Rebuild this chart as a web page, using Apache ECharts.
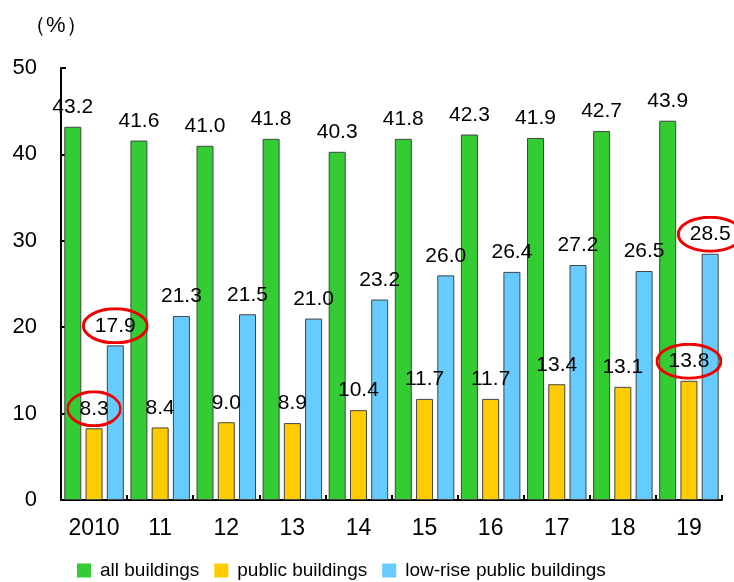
<!DOCTYPE html>
<html><head><meta charset="utf-8">
<script src="https://cdn.jsdelivr.net/npm/echarts@6/dist/echarts.min.js"></script>
<style>html,body{margin:0;padding:0;background:#fff}#c{width:734px;height:582px}</style>
</head><body><div id="c"></div>
<script>
var categories = ['2010','11','12','13','14','15','16','17','18','19'];
var allBuildings = [43.2, 41.6, 41.0, 41.8, 40.3, 41.8, 42.3, 41.9, 42.7, 43.9];
var publicBuildings = [8.3, 8.4, 9.0, 8.9, 10.4, 11.7, 11.7, 13.4, 13.1, 13.8];
var lowRisePublic = [17.9, 21.3, 21.5, 21.0, 23.2, 26.0, 26.4, 27.2, 26.5, 28.5];
var seriesNames = ['all buildings', 'public buildings', 'low-rise public buildings'];
var yTicks = [0, 10, 20, 30, 40, 50];
// indices of labels circled in red
var circledPublic = [0, 9];
var circledLowRise = [0, 9];

var FONT = "Arial, 'Liberation Sans', sans-serif";
var ellipseSvg = 'data:image/svg+xml;charset=utf-8,' + encodeURIComponent(
  '<svg xmlns="http://www.w3.org/2000/svg" width="134" height="74" viewBox="0 0 134 74" preserveAspectRatio="none">' +
  '<ellipse cx="67" cy="37" rx="64" ry="34" fill="none" stroke="#ee0000" stroke-width="6"/></svg>');

function buildData(values, circled) {
  return values.map(function (v, i) {
    if (circled.indexOf(i) >= 0) {
      return {
        value: v,
        label: {
          padding: [8, 13],
          distance: 1,
          backgroundColor: { image: ellipseSvg }
        }
      };
    }
    return v;
  });
}

var labelCommon = {
  show: true, position: 'top', distance: 9,
  color: '#000', fontSize: 21, fontFamily: FONT,
  formatter: function (p) { return p.value.toFixed(1); }
};
var itemBorder = { borderColor: '#444', borderWidth: 1 };

var chart = echarts.init(document.getElementById('c'), null, { renderer: 'canvas' });
chart.setOption({
  animation: false,
  backgroundColor: '#fff',
  title: {
    text: '（%）', left: 19, top: 10,
    textStyle: { fontSize: 22, fontWeight: 'normal', color: '#000', fontFamily: FONT }
  },
  grid: { left: 61, right: 12, top: 68, bottom: 82, containLabel: false },
  legend: {
    data: seriesNames, left: 72, top: 556, itemWidth: 14, itemHeight: 14, itemGap: 15,
    icon: 'rect',
    itemStyle: { borderWidth: 0 },
    textStyle: { fontSize: 19, color: '#000', fontFamily: FONT, padding: [0, 0, 0, 4] }
  },
  xAxis: {
    type: 'category', data: categories,
    axisLine: { lineStyle: { color: '#000', width: 2 } },
    axisTick: { show: true, inside: true, length: 5, lineStyle: { color: '#000', width: 2 } },
    axisLabel: { color: '#000', fontSize: 23, fontFamily: FONT, margin: 17, interval: 0 }
  },
  yAxis: {
    type: 'value', min: yTicks[0], max: yTicks[yTicks.length - 1], interval: 10,
    splitLine: { show: false },
    axisLine: { show: true, lineStyle: { color: '#000', width: 2 } },
    axisTick: { show: true, inside: true, length: 5, lineStyle: { color: '#000', width: 2 } },
    axisLabel: { color: '#000', fontSize: 22, fontFamily: FONT, margin: 24 }
  },
  series: [
    { name: seriesNames[0], type: 'bar', data: allBuildings, barWidth: 17, barGap: '25%',
      itemStyle: Object.assign({ color: '#33CC33' }, itemBorder), label: labelCommon },
    { name: seriesNames[1], type: 'bar', data: buildData(publicBuildings, circledPublic), barWidth: 17, barGap: '25%',
      itemStyle: Object.assign({ color: '#FFCC00' }, itemBorder), label: labelCommon },
    { name: seriesNames[2], type: 'bar', data: buildData(lowRisePublic, circledLowRise), barWidth: 17, barGap: '25%',
      itemStyle: Object.assign({ color: '#66CCFF' }, itemBorder), label: labelCommon }
  ]
});
</script></body></html>
